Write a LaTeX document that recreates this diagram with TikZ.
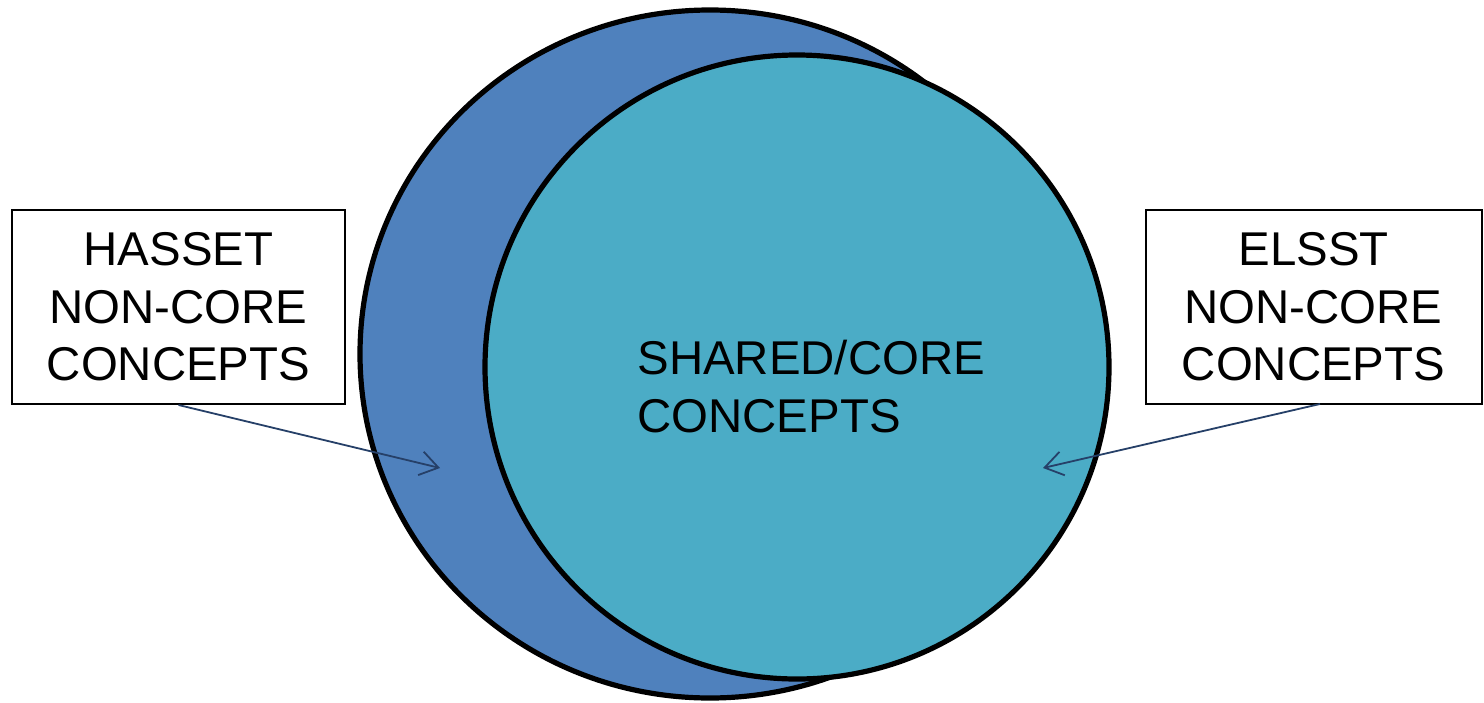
\documentclass[tikz,border=0pt]{standalone}
\usepackage{fontspec}
\setmainfont{Liberation Sans}
\usetikzlibrary{arrows.meta,shapes.geometric}
\definecolor{outerblue}{RGB}{79,129,189}
\definecolor{innerteal}{RGB}{75,172,198}
\definecolor{pointer}{RGB}{38,64,104}
\tikzset{
  setshape/.style={line width=2.6pt, draw=black},
  labelbox/.style={draw=black, line width=1pt, fill=white, minimum width=166.5pt,
    minimum height=97pt, inner sep=0pt, align=center,
    font=\fontsize{23.7}{28.75}\selectfont},
  pointerline/.style={draw=pointer, line width=0.9pt,
    -{Straight Barb[length=9pt,width=12pt,line width=0.9pt]}}
}
\begin{document}
\begin{tikzpicture}[x=0.5pt,y=-0.5pt]
  \useasboundingbox (0,0) rectangle (1484,702);
  % the two overlapping sets
  \node[setshape, ellipse, fill=outerblue, minimum width=350pt, minimum height=344pt,
        inner sep=0pt] (outer) at (710,354) {};
  \node[setshape, circle, fill=innerteal, minimum size=312pt, inner sep=0pt]
        (inner) at (797,367) {};
  \node[anchor=north west, inner sep=0pt, align=left,
        font=\fontsize{23.7}{28.75}\selectfont] (core) at (637,340)
        {SHARED/CORE\\CONCEPTS};
  % labels for the non-core parts
  \node[labelbox] (hasset) at (178.5,307) {HASSET\\NON-CORE\\CONCEPTS};
  \node[labelbox, minimum width=168pt] (elsst) at (1313.5,307)
        {ELSST\\NON-CORE\\CONCEPTS};
  \coordinate (hassetTip) at (440,468);
  \coordinate (elsstTip) at (1043,468);
  \coordinate (elsstFoot) at (1320,404);
  \draw[pointerline] (hasset.south) -- (hassetTip);
  \draw[pointerline] (elsstFoot) -- (elsstTip);
\end{tikzpicture}
\end{document}
